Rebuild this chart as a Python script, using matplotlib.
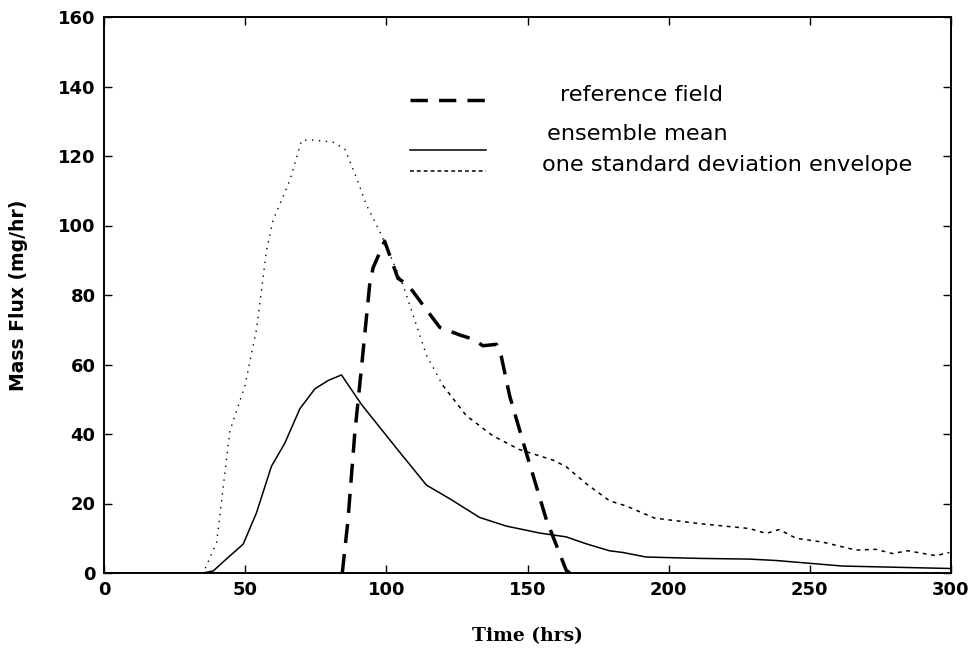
import matplotlib
matplotlib.use("Agg")
import matplotlib.pyplot as plt
import numpy as np

# ---- data ----
mean_t = [0, 35, 38.7, 44, 49.3, 54, 59.3, 64, 69.4, 74.7, 79.4, 84.1, 91.2, 103.6, 114.2,
          122.4, 133, 142.5, 154.3, 163.7, 170.8, 179, 183.8, 192, 211, 228.6, 238, 261.6, 299.4]
mean_v = [0, 0, 0.6, 4.5, 8.3, 17.3, 30.7, 37.3, 47.3, 53, 55.4, 57.0, 48.5, 35.9, 25.3,
          21.4, 16, 13.5, 11.5, 10.4, 8.4, 6.4, 5.9, 4.6, 4.2, 4.0, 3.6, 2.0, 1.3]

env_t = [0, 35, 36.3, 39.9, 44.6, 49.9, 54, 57.6, 59.9, 62.9, 65.8, 70, 74.1, 81.1, 85.3,
         89.4, 92.9, 98.2, 105.9, 114.2, 120, 128.3, 137.7, 147.2, 159, 163.7, 170.8,
         179, 184.9, 195, 211, 228.6, 234.5, 239.2, 245.1, 254.5, 266.3, 273.4, 279.3,
         284.6, 294.6, 299.4]
env_v = [0, 0, 2.1, 8.9, 40.9, 53.8, 70.0, 93.0, 101.6, 107.3, 113, 124.5, 124.6, 124, 122,
         113.8, 106, 97.4, 82.9, 62.7, 54, 45.3, 39.5, 35.5, 32.5, 30.6, 25.7,
         20.8, 19.3, 15.8, 14.2, 12.8, 11.4, 12.5, 10, 8.9, 6.6, 6.8, 5.6,
         6.4, 5.0, 5.9]

ref_t = [84.4, 86.4, 88.8, 91.2, 94.1, 95.3, 99.4, 104.1, 107.7, 113, 118.9, 126, 130.7,
         134.2, 139, 140.7, 143.7, 149.6, 156.7, 163.7, 165]
ref_v = [0, 15.1, 40, 59.1, 83, 87.8, 95.5, 84.8, 82.9, 77.1, 70.7, 68.5, 67.3,
         65.4, 65.8, 62.4, 50.9, 34.5, 15.3, 0.8, 0]

x_ticks = [0, 50, 100, 150, 200, 250, 300]
y_ticks = [0, 20, 40, 60, 80, 100, 120, 140, 160]

legend_labels = ["reference field", "ensemble mean", "one standard deviation envelope"]
x_label = "Time (hrs)"
y_label = "Mass Flux (mg/hr)"

# ---- figure ----
W, H = 976, 656
fig = plt.figure(figsize=(W / 100, H / 100), dpi=100)
ax = fig.add_axes([104 / W, 1 - 573 / H, (951 - 104) / W, (573 - 17) / H])

ax.plot(ref_t, ref_v, color="black", lw=2.5, linestyle=(0, (5.5, 3.2)))
ax.plot(mean_t, mean_v, color="black", lw=1.1)

env_t_a = np.array(env_t)
env_v_a = np.array(env_v)
split = int(np.searchsorted(env_t_a, 120)) + 1
ax.plot(env_t_a[:split], env_v_a[:split], color="black", lw=1.0, linestyle=(0, (1, 4)))
ax.plot(env_t_a[split - 1:], env_v_a[split - 1:], color="black", lw=1.1, linestyle=(0, (2.5, 3)))

ax.set_xlim(0, 300)
ax.set_ylim(0, 160)
ax.set_xticks(x_ticks)
ax.set_yticks(y_ticks)
ax.tick_params(direction="in", length=6, width=1, top=True, right=True,
               labelsize=13, pad=6)
for lbl in ax.get_xticklabels() + ax.get_yticklabels():
    lbl.set_fontweight("bold")
    lbl.set_family("DejaVu Sans")
for sp in ax.spines.values():
    sp.set_linewidth(1.4)

ax.set_xlabel(x_label, fontsize=13.5, fontweight="bold", family="DejaVu Serif", labelpad=20)
ax.set_ylabel(y_label, fontsize=13.5, fontweight="bold", family="DejaVu Sans", labelpad=22)

# ---- legend drawn by hand in figure pixels ----
def fx(px):
    return px / W

def fy(py):
    return 1 - py / H

styles = [dict(lw=2.5, linestyle=(0, (5, 3.2))),
          dict(lw=1.1, linestyle="-"),
          dict(lw=1.1, linestyle=(0, (2.5, 2)))]
line_y = [100, 150, 171]
text_y = [95, 134, 165]
text_x = [560, 547, 542]
for lab, st, ly, ty, tx in zip(legend_labels, styles, line_y, text_y, text_x):
    fig.add_artist(plt.Line2D([fx(410), fx(486)], [fy(ly), fy(ly)], color="black",
                              transform=fig.transFigure, **st))
    fig.text(fx(tx), fy(ty), lab, fontsize=16.2, family="DejaVu Sans",
             va="center", ha="left")

fig.savefig("out.png", dpi=100)
